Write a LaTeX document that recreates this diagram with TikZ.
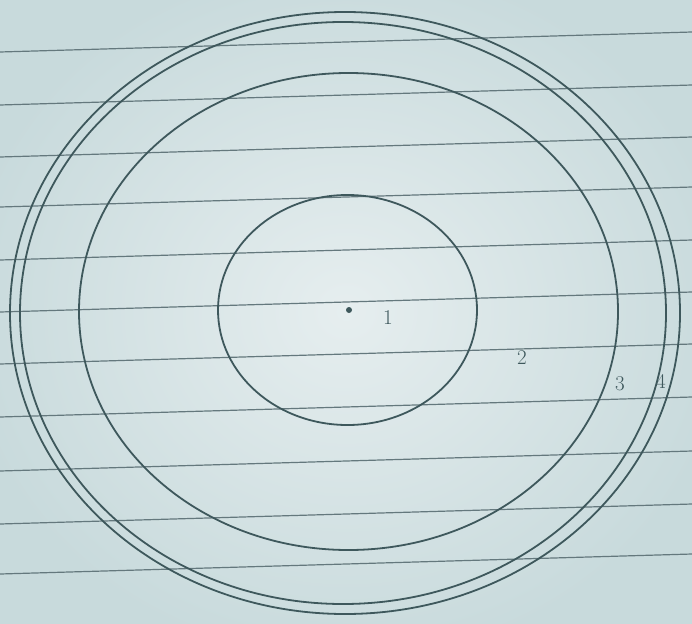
\documentclass[tikz,border=0pt]{standalone}
\usepackage{tikz}
\definecolor{paper}{RGB}{200,218,220}
\definecolor{paperlight}{RGB}{230,238,239}
\definecolor{rule}{RGB}{100,120,125}
\definecolor{pencil}{RGB}{62,88,92}
\tikzset{
  ruling/.style={draw=rule, line width=1.2pt},
  ring/.style={draw=pencil, line width=1.8pt},
  lbl/.style={text=pencil, font=\fontsize{21}{21}\selectfont, inner sep=0pt}
}
\begin{document}
\begin{tikzpicture}[x=1pt,y=-1pt]
\useasboundingbox (0,0) rectangle (692,623);
\shade[inner color=paperlight, outer color=paper] (-40,-40) rectangle (732,663);
% ruled lines of the paper
\foreach \y in {52,105,157,207,260,312,364,417,471,524,574}
  \draw[ruling] (0,\y) -- (692,\y-20);
% concentric ellipses
\draw[ring] (345,313) ellipse (335 and 301);
\draw[ring] (343,313) ellipse (323 and 291);
\draw[ring] (348.5,311.5) ellipse (269.5 and 238.5);
\draw[ring] (347.5,310) ellipse (129.5 and 115);
% centre dot
\fill[pencil] (349,310) circle (3);
% labels
\node[lbl] (l1) at (388,318) {1};
\node[lbl] (l2) at (522,358) {2};
\node[lbl] (l3) at (620,384) {3};
\node[lbl] (l4) at (661,381) {4};
\end{tikzpicture}
\end{document}
